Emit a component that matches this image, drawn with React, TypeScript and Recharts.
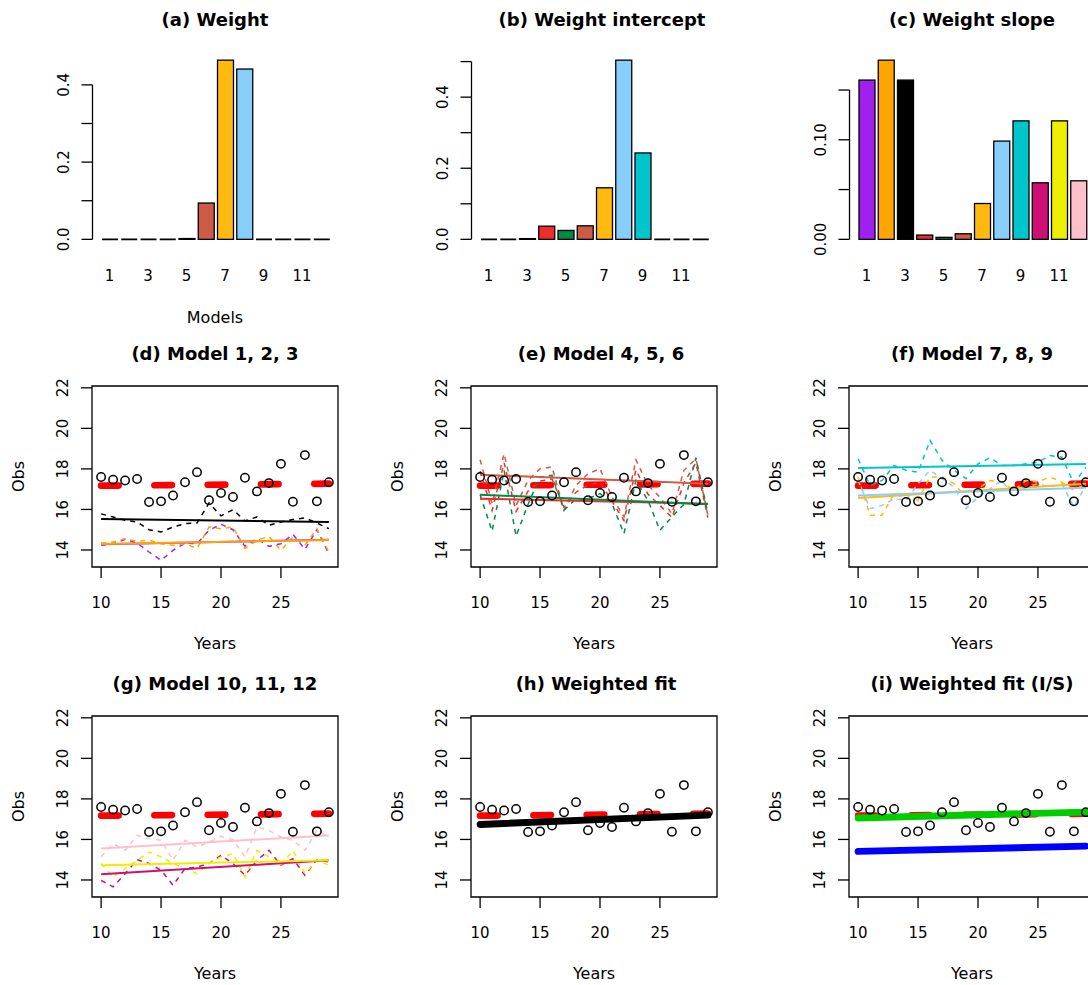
import React from 'react';
import { ComposedChart, Bar, Line, Scatter, XAxis, YAxis, ReferenceArea, ReferenceLine } from 'recharts';

const FONT = '"DejaVu Sans", Verdana, sans-serif';

// ---------- top row: model weights ----------
const models = [1, 2, 3, 4, 5, 6, 7, 8, 9, 10, 11, 12];
const modelColors = ['#A020F0', '#FFA500', '#000000', '#EE2C2C', '#008B45', '#CD5B45', '#FFB90F', '#87CEFA', '#00C5CD', '#CD1076', '#EEEE00', '#FFC0CB'];
const weight = [0, 0, 0, 0.001, 0.002, 0.094, 0.464, 0.441, 0.001, 0, 0, 0];
const weightIntercept = [0, 0, 0.002, 0.037, 0.025, 0.038, 0.145, 0.504, 0.243, 0, 0, 0.001];
const weightSlope = [0.16, 0.18, 0.16, 0.0043, 0.002, 0.0056, 0.036, 0.0987, 0.119, 0.0568, 0.119, 0.0588];
const modelTicks = [1, 3, 5, 7, 9, 11];
const weightTicks = [0, 0.1, 0.2, 0.3, 0.4];
const weightTickLabels = ['0.0', '', '0.2', '', '0.4'];
const interceptTicks = [0, 0.1, 0.2, 0.3, 0.4, 0.5];
const interceptTickLabels = ['0.0', '', '0.2', '', '0.4', ''];
const slopeTicks = [0, 0.05, 0.1, 0.15];
const slopeTickLabels = ['0.00', '', '0.10', ''];

// ---------- lower panels: observations and fits ----------
const years = [10, 11, 12, 13, 14, 15, 16, 17, 18, 19, 20, 21, 22, 23, 24, 25, 26, 27, 28, 29];
const fitYears = [10, 29];
const yearTicks = [10, 15, 20, 25];
const obsTicks = [14, 16, 18, 20, 22];
const obs = [17.6, 17.47, 17.43, 17.5, 16.37, 16.4, 16.69, 17.34, 17.84, 16.45, 16.81, 16.61, 17.56, 16.89, 17.3, 18.25, 16.38, 18.68, 16.4, 17.34];
const truth = [17.17, 17.27];

const m1Pred = [14.23, 14.31, 14.51, 14.34, 13.9, 13.49, 13.98, 14.34, 14.31, 14.97, 15.27, 15.0, 14.18, 14.56, 14.18, 14.31, 14.77, 14.03, 15.0, 13.82];
const m2Pred = [14.34, 14.39, 14.56, 14.43, 14.48, 14.31, 14.23, 14.31, 14.07, 15.13, 15.05, 15.13, 14.07, 14.48, 14.67, 13.98, 14.64, 14.23, 15.05, 13.9];
const m3Pred = [15.78, 15.63, 15.46, 15.38, 15.0, 14.89, 15.13, 15.3, 15.33, 16.32, 15.68, 15.99, 15.43, 15.63, 15.22, 15.38, 15.5, 15.58, 15.33, 15.05];
const m4Pred = [17.9, 15.95, 18.3, 15.9, 16.9, 17.4, 17.5, 16.1, 16.85, 17.2, 17.35, 16.4, 15.45, 17.95, 16.75, 16.2, 15.6, 17.3, 18.3, 15.6];
const m5Pred = [16.73, 14.93, 17.93, 14.68, 16.26, 17.6, 17.68, 15.96, 16.53, 16.53, 16.78, 16.29, 14.81, 17.43, 16.45, 14.97, 15.63, 16.26, 18.55, 15.79];
const m6Pred = [18.45, 16.29, 18.75, 16.2, 17.43, 18.01, 18.09, 15.96, 17.19, 17.76, 18.01, 16.61, 15.63, 18.45, 17.19, 16.61, 15.79, 17.93, 18.5, 15.71];
const m7Pred = [17.6, 15.71, 15.71, 16.78, 16.53, 16.45, 17.6, 17.6, 17.27, 16.61, 17.02, 17.43, 17.35, 16.94, 17.43, 17.35, 17.6, 17.35, 16.94, 17.27];
const m8Pred = [17.43, 16.04, 16.2, 16.53, 16.45, 17.27, 17.93, 17.52, 17.11, 16.04, 16.61, 17.02, 17.43, 16.61, 17.11, 17.27, 17.11, 17.27, 16.12, 17.19];
const m9Pred = [18.5, 17.19, 17.43, 18.17, 17.93, 17.84, 19.4, 18.42, 17.93, 17.52, 18.25, 18.55, 18.17, 18.17, 18.25, 18.33, 18.66, 18.58, 17.27, 18.09];
const m10Pred = [13.98, 13.66, 14.31, 15.0, 14.81, 14.48, 13.74, 14.56, 14.64, 14.81, 15.22, 14.81, 14.23, 14.97, 15.46, 14.73, 15.05, 14.23, 15.0, 14.89];
const m11Pred = [14.81, 14.15, 14.56, 14.97, 15.38, 15.14, 14.81, 14.56, 14.31, 14.81, 15.14, 15.3, 14.15, 15.46, 15.14, 14.73, 15.46, 14.31, 14.97, 14.73];
const m12Pred = [15.14, 15.79, 15.46, 16.2, 16.04, 15.96, 14.97, 15.96, 15.63, 15.87, 16.15, 15.99, 15.14, 16.61, 16.45, 16.12, 15.96, 15.46, 16.45, 16.12];

const m1Fit = [14.28, 14.5];
const m2Fit = [14.3, 14.49];
const m3Fit = [15.53, 15.38];
const m4Fit = [16.53, 16.28];
const m5Fit = [16.73, 16.25];
const m6Fit = [17.71, 17.27];
const m7Fit = [16.56, 17.27];
const m8Fit = [16.69, 17.07];
const m9Fit = [18.04, 18.24];
const m10Fit = [14.28, 14.97];
const m11Fit = [14.73, 14.97];
const m12Fit = [15.55, 16.2];
const weightedFit = [16.74, 17.2];
const weightedFitIS = [17.06, 17.35];
const weightedFitISAlt = [15.41, 15.67];

// ---------- helpers ----------
const PANEL_W = 378;
const PANEL_H = 330;
const colLeft = [0, 379, 757];
const rowTop = [0, 330, 660];

const series = (xs: number[], ys: number[]) => xs.map((x, i) => ({ x, y: ys[i] }));

const makeRotTick = (ticks: number[], labels: string[]) => (props: any) => {
  const { x, y, payload } = props;
  const i = ticks.findIndex((t) => Math.abs(t - payload.value) < 1e-9);
  const lab = i >= 0 ? labels[i] : String(payload.value);
  if (!lab) return <g />;
  const bx = x - 12.5;
  return (
    <text x={bx} y={y} transform={`rotate(-90 ${bx} ${y})`} textAnchor="middle" fontSize={15} fontFamily={FONT} fill="#000">
      {lab}
    </text>
  );
};

const BarShape = (props: any) => {
  const { x, y, width, height, payload } = props;
  if (!(height > 0.6)) {
    return <line x1={x} x2={x + width} y1={y + (height || 0)} y2={y + (height || 0)} stroke="#000" strokeWidth={1.6} />;
  }
  return <rect x={x} y={y} width={width} height={height} fill={payload.fill} stroke="#000" strokeWidth={1.3} />;
};

const ObsDot = (props: any) => {
  const { cx, cy } = props;
  return <circle cx={cx} cy={cy} r={4.2} fill="none" stroke="#000" strokeWidth={1.5} />;
};

function Overlay({ title, titleY, titleDx = 0, xlab, xlabY, ylab }: any) {
  return (
    <svg width={PANEL_W} height={PANEL_H} style={{ position: 'absolute', left: 0, top: 0, pointerEvents: 'none', overflow: 'visible' }}>
      <text x={215 + titleDx} y={titleY} textAnchor="middle" fontSize={18} fontWeight="bold" fontFamily={FONT} fill="#000">
        {title}
      </text>
      {xlab ? (
        <text x={215} y={xlabY} textAnchor="middle" fontSize={16} fontFamily={FONT} fill="#000">
          {xlab}
        </text>
      ) : null}
      {ylab ? (
        <text x={24.3} y={146.5} transform="rotate(-90 24.3 146.5)" textAnchor="middle" fontSize={16} fontFamily={FONT} fill="#000">
          {ylab}
        </text>
      ) : null}
    </svg>
  );
}

function BarPanel({ col, row, title, titleDx, values, ticks, tickLabels, xlab }: any) {
  const data = models.map((m, i) => ({ x: m, y: values[i], fill: modelColors[i] }));
  const vmax = Math.max(...values);
  const domain = [-0.04 * vmax, 1.04 * vmax];
  const xDomain = [0.111, 12.889];
  return (
    <div style={{ position: 'absolute', left: colLeft[col], top: rowTop[row], width: PANEL_W, height: PANEL_H }}>
      <ComposedChart width={PANEL_W} height={PANEL_H} data={data} margin={{ top: 53, right: 39.5, bottom: 0, left: 0 }}>
        <XAxis
          type="number"
          dataKey="x"
          domain={xDomain}
          ticks={modelTicks}
          interval={0}
          allowDataOverflow
          height={83.5}
          axisLine={false}
          tickLine={false}
          tickSize={0}
          tickMargin={24}
          tick={{ fontSize: 15, fontFamily: FONT, fill: '#000' }}
        />
        <YAxis
          type="number"
          domain={domain}
          ticks={ticks}
          interval={0}
          allowDataOverflow
          width={92.5}
          axisLine={false}
          tickSize={11}
          tickMargin={0}
          tickLine={{ stroke: '#000', strokeWidth: 1.3 }}
          tick={makeRotTick(ticks, tickLabels)}
        />
        <Bar dataKey="y" barSize={16} isAnimationActive={false} shape={BarShape} />
        <ReferenceLine
          segment={[{ x: xDomain[0], y: ticks[0] }, { x: xDomain[0], y: ticks[ticks.length - 1] }]}
          stroke="#000"
          strokeWidth={1.3}
          ifOverflow="visible"
        />
      </ComposedChart>
      <Overlay title={title} titleY={26} titleDx={titleDx} xlab={xlab} xlabY={323} />
    </div>
  );
}

type LineSpec = { values: number[]; color: string };

function LinePanel({ col, row, title, titleDx = 0, dashed, fits, thick }: { col: number; row: number; title: string; titleDx?: number; dashed: LineSpec[]; fits: LineSpec[]; thick: LineSpec[] }) {
  const xDomain = [9.24, 29.76];
  const yDomain = [13.16, 22.09];
  return (
    <div style={{ position: 'absolute', left: colLeft[col], top: rowTop[row], width: PANEL_W, height: PANEL_H }}>
      <ComposedChart width={PANEL_W} height={PANEL_H} margin={{ top: 56, right: 40, bottom: 0, left: 0 }}>
        <XAxis
          type="number"
          dataKey="x"
          domain={xDomain}
          ticks={yearTicks}
          interval={0}
          allowDataOverflow
          height={93}
          axisLine={false}
          tickSize={11}
          tickMargin={19}
          tickLine={{ stroke: '#000', strokeWidth: 1.3 }}
          tick={{ fontSize: 15, fontFamily: FONT, fill: '#000' }}
        />
        <YAxis
          type="number"
          domain={yDomain}
          ticks={obsTicks}
          interval={0}
          allowDataOverflow
          width={92}
          axisLine={false}
          tickSize={11}
          tickMargin={0}
          tickLine={{ stroke: '#000', strokeWidth: 1.3 }}
          tick={makeRotTick(obsTicks, obsTicks.map(String))}
        />
        <Line
          data={series(fitYears, truth)}
          dataKey="y"
          type="linear"
          stroke="#FF0000"
          strokeWidth={6.7}
          strokeDasharray="17.5 35.8"
          strokeLinecap="round"
          dot={false}
          isAnimationActive={false}
        />
        <Scatter data={series(years, obs)} dataKey="y" shape={ObsDot} isAnimationActive={false} />
        {dashed.map((s, i) => (
          <Line
            key={'d' + i}
            data={series(years, s.values)}
            dataKey="y"
            type="linear"
            stroke={s.color}
            strokeWidth={1.5}
            strokeDasharray="5 5"
            dot={false}
            isAnimationActive={false}
          />
        ))}
        {fits.map((s, i) => (
          <Line
            key={'f' + i}
            data={series(fitYears, s.values)}
            dataKey="y"
            type="linear"
            stroke={s.color}
            strokeWidth={2}
            dot={false}
            isAnimationActive={false}
          />
        ))}
        {thick.map((s, i) => (
          <Line
            key={'t' + i}
            data={series(fitYears, s.values)}
            dataKey="y"
            type="linear"
            stroke={s.color}
            strokeWidth={6.9}
            strokeLinecap="round"
            dot={false}
            isAnimationActive={false}
          />
        ))}
        <ReferenceArea x1={xDomain[0]} x2={xDomain[1]} y1={yDomain[0]} y2={yDomain[1]} fill="none" fillOpacity={0} stroke="#000" strokeWidth={1.3} ifOverflow="visible" />
      </ComposedChart>
      <Overlay title={title} titleY={30} titleDx={titleDx} xlab="Years" xlabY={319} ylab="Obs" />
    </div>
  );
}

export default function App() {
  const c = modelColors;
  return (
    <div style={{ position: 'absolute', left: 0, top: 0, width: 1088, height: 985, overflow: 'hidden', background: '#fff' }}>
      <BarPanel col={0} row={0} title="(a) Weight" values={weight} ticks={weightTicks} tickLabels={weightTickLabels} xlab="Models" />
      <BarPanel col={1} row={0} title="(b) Weight intercept" titleDx={8} values={weightIntercept} ticks={interceptTicks} tickLabels={interceptTickLabels} />
      <BarPanel col={2} row={0} title="(c) Weight slope" values={weightSlope} ticks={slopeTicks} tickLabels={slopeTickLabels} />

      <LinePanel
        col={0}
        row={1}
        title="(d) Model 1, 2, 3"
        dashed={[{ values: m3Pred, color: c[2] }, { values: m1Pred, color: c[0] }, { values: m2Pred, color: c[1] }]}
        fits={[{ values: m3Fit, color: c[2] }, { values: m1Fit, color: c[0] }, { values: m2Fit, color: c[1] }]}
        thick={[]}
      />
      <LinePanel
        col={1}
        row={1}
        title="(e) Model 4, 5, 6"
        titleDx={7}
        dashed={[{ values: m4Pred, color: c[3] }, { values: m6Pred, color: c[5] }, { values: m5Pred, color: c[4] }]}
        fits={[{ values: m4Fit, color: c[3] }, { values: m6Fit, color: c[5] }, { values: m5Fit, color: c[4] }]}
        thick={[]}
      />
      <LinePanel
        col={2}
        row={1}
        title="(f) Model 7, 8, 9"
        dashed={[{ values: m7Pred, color: c[6] }, { values: m8Pred, color: c[7] }, { values: m9Pred, color: c[8] }]}
        fits={[{ values: m7Fit, color: c[6] }, { values: m8Fit, color: c[7] }, { values: m9Fit, color: c[8] }]}
        thick={[]}
      />
      <LinePanel
        col={0}
        row={2}
        title="(g) Model 10, 11, 12"
        dashed={[{ values: m12Pred, color: c[11] }, { values: m10Pred, color: c[9] }, { values: m11Pred, color: c[10] }]}
        fits={[{ values: m12Fit, color: c[11] }, { values: m10Fit, color: c[9] }, { values: m11Fit, color: c[10] }]}
        thick={[]}
      />
      <LinePanel col={1} row={2} title="(h) Weighted fit" titleDx={2} dashed={[]} fits={[]} thick={[{ values: weightedFit, color: '#000000' }]} />
      <LinePanel
        col={2}
        row={2}
        title="(i) Weighted fit (I/S)"
        dashed={[]}
        fits={[]}
        thick={[{ values: weightedFitISAlt, color: '#0000FF' }, { values: weightedFitIS, color: '#00CD00' }]}
      />
    </div>
  );
}
